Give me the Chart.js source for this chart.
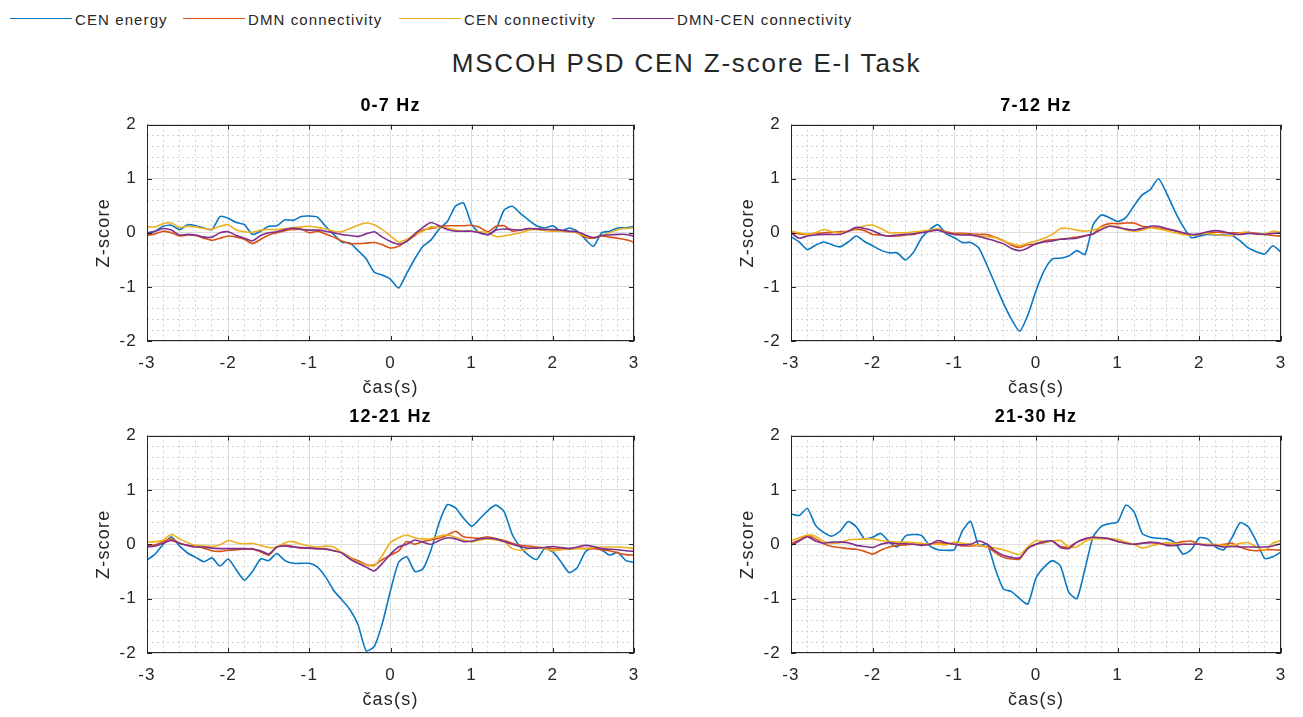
<!DOCTYPE html>
<html>
<head>
<meta charset="utf-8">
<title>MSCOH PSD CEN Z-score E-I Task</title>
<script src="https://cdn.jsdelivr.net/npm/chart.js@4/dist/chart.umd.min.js"></script>
<style>
  html, body { margin: 0; padding: 0; background: #ffffff; }
  body {
    width: 1303px; height: 717px; position: relative; overflow: hidden;
    font-family: "Liberation Sans", Arial, Helvetica, sans-serif; color: #262626;
  }
  .swatch { position: absolute; top: 17.5px; width: 62px; height: 0; border-top: 1.5px solid; }
  .ltext { position: absolute; top: 11px; font-size: 15px; line-height: 18px; letter-spacing: 1.1px; white-space: nowrap; }
  #suptitle {
    position: absolute; left: 35px; top: 48px; width: 1303px; text-align: center;
    font-size: 26px; line-height: 30px; letter-spacing: 1.8px; color: #262626; white-space: nowrap;
  }
  canvas { position: absolute; }
</style>
</head>
<body>
<div id="legend"></div>
<div id="suptitle">MSCOH PSD CEN Z-score E-I Task</div>

<script>
// ---- time axis (s) ----
const TIME = [
  -3.0, -2.9, -2.8, -2.7, -2.6, -2.5, -2.4, -2.3, -2.2, -2.1,
  -2.0, -1.9, -1.8, -1.7, -1.6, -1.5, -1.4, -1.3, -1.2, -1.1,
  -1.0, -0.9, -0.8, -0.7, -0.6, -0.5, -0.4, -0.3, -0.2, -0.1,
   0.0,  0.1,  0.2,  0.3,  0.4,  0.5,  0.6,  0.7,  0.8,  0.9,
   1.0,  1.1,  1.2,  1.3,  1.4,  1.5,  1.6,  1.7,  1.8,  1.9,
   2.0,  2.1,  2.2,  2.3,  2.4,  2.5,  2.6,  2.7,  2.8,  2.9,
   3.0
];

const X_TICK_LABELS = [-3, -2, -1, 0, 1, 2, 3];
const Y_TICK_LABELS = [-2, -1, 0, 1, 2];
const SERIES_NAMES = ['CEN energy', 'DMN connectivity', 'CEN connectivity', 'DMN-CEN connectivity'];
const BAND_TITLES = ['0-7 Hz', '7-12 Hz', '12-21 Hz', '21-30 Hz'];

// ---- 0-7 Hz ----
const B1_CEN_ENERGY = [
  -0.03, 0.03, 0.12, 0.14, 0.06, 0.15, 0.13, 0.09, 0.06, 0.30,
   0.27, 0.19, 0.15, -0.03, 0.03, 0.12, 0.13, 0.24, 0.23, 0.30,
   0.31, 0.29, 0.12, -0.03, -0.17, -0.19, -0.33, -0.48, -0.73, -0.78,
  -0.86, -1.02, -0.75, -0.48, -0.25, -0.13, 0.07, 0.21, 0.49, 0.55,
   0.15, 0.00, -0.03, 0.07, 0.42, 0.49, 0.36, 0.24, 0.13, 0.09,
   0.13, 0.03, 0.09, 0.03, -0.12, -0.25, 0.00, 0.03, 0.09, 0.09,
   0.12
];
const B1_DMN_CONN = [
  -0.05, -0.02, 0.03, 0.00, -0.06, -0.04, -0.05, -0.10, -0.14, -0.10,
  -0.06, -0.08, -0.12, -0.20, -0.12, -0.04, 0.00, 0.04, 0.06, 0.07,
   0.00, 0.03, -0.02, -0.08, -0.15, -0.20, -0.20, -0.19, -0.18, -0.22,
  -0.28, -0.25, -0.15, -0.05, 0.05, 0.08, 0.11, 0.13, 0.13, 0.13,
   0.14, 0.10, 0.02, 0.12, 0.13, 0.03, 0.05, 0.07, 0.08, 0.06,
   0.04, 0.03, 0.02, 0.00, -0.08, -0.10, -0.06, -0.08, -0.10, -0.13,
  -0.17
];
const B1_CEN_CONN = [
   0.11, 0.11, 0.17, 0.18, 0.10, 0.12, 0.11, 0.08, 0.07, 0.12,
   0.15, 0.05, 0.02, 0.01, 0.05, 0.06, 0.06, 0.08, 0.09, 0.11,
   0.12, 0.10, 0.07, 0.03, 0.02, 0.08, 0.14, 0.18, 0.15, 0.06,
  -0.06, -0.17, -0.12, -0.03, 0.03, 0.11, 0.10, 0.09, 0.05, 0.03,
   0.03, 0.02, 0.00, -0.07, -0.06, -0.03, 0.00, 0.05, 0.06, 0.04,
   0.03, 0.03, 0.03, 0.00, -0.06, -0.09, -0.05, 0.00, 0.06, 0.08,
   0.09
];
const B1_DMN_CEN_CONN = [
   0.00, 0.03, 0.08, 0.05, -0.04, -0.03, -0.04, -0.08, -0.08, 0.00,
   0.02, -0.05, -0.10, -0.15, -0.05, 0.00, 0.02, 0.06, 0.09, 0.06,
   0.05, 0.05, 0.03, 0.00, -0.03, -0.05, -0.07, -0.02, 0.02, -0.08,
  -0.16, -0.21, -0.16, -0.02, 0.10, 0.19, 0.13, 0.06, 0.03, 0.03,
   0.03, 0.00, -0.04, 0.05, 0.07, 0.06, 0.05, 0.08, 0.07, 0.06,
   0.06, 0.05, 0.03, 0.02, -0.04, -0.09, -0.05, -0.04, -0.03, -0.03,
  -0.06
];

// ---- 7-12 Hz ----
const B2_CEN_ENERGY = [
  -0.07, -0.17, -0.31, -0.23, -0.17, -0.22, -0.26, -0.17, -0.06, -0.16,
  -0.24, -0.32, -0.37, -0.37, -0.50, -0.36, -0.09, 0.06, 0.15, -0.02,
  -0.09, -0.18, -0.18, -0.28, -0.60, -0.95, -1.30, -1.60, -1.82, -1.52,
  -1.07, -0.70, -0.48, -0.47, -0.43, -0.33, -0.40, 0.15, 0.33, 0.28,
   0.21, 0.28, 0.50, 0.70, 0.80, 1.00, 0.73, 0.40, 0.12, -0.09,
  -0.06, -0.03, -0.04, -0.04, -0.05, -0.15, -0.28, -0.35, -0.39, -0.24,
  -0.36
];
const B2_DMN_CONN = [
   0.00, -0.02, -0.03, -0.01, 0.00, 0.01, 0.02, 0.03, 0.06, 0.04,
  -0.03, -0.04, -0.06, -0.06, -0.04, -0.03, 0.01, 0.04, 0.07, 0.02,
  -0.01, -0.01, -0.02, -0.03, -0.03, -0.08, -0.14, -0.23, -0.27, -0.22,
  -0.21, -0.15, -0.13, -0.12, -0.10, -0.08, -0.05, -0.02, 0.12, 0.17,
   0.17, 0.18, 0.18, 0.12, 0.10, 0.09, 0.06, 0.04, 0.00, -0.04,
  -0.03, 0.00, 0.01, 0.00, 0.00, 0.00, 0.01, -0.01, -0.03, -0.05,
  -0.06
];
const B2_CEN_CONN = [
   0.03, 0.00, -0.03, 0.00, 0.06, 0.02, -0.01, 0.03, 0.08, 0.13,
   0.14, 0.08, 0.00, 0.00, 0.00, 0.02, 0.03, 0.05, 0.07, 0.00,
  -0.03, -0.03, -0.04, -0.06, -0.07, -0.09, -0.15, -0.20, -0.24, -0.19,
  -0.15, -0.10, -0.03, 0.08, 0.08, 0.05, 0.03, 0.05, 0.10, 0.12,
   0.12, 0.05, 0.03, 0.05, 0.09, 0.07, 0.04, 0.00, -0.03, -0.05,
  -0.02, -0.01, -0.03, -0.05, -0.05, 0.00, 0.00, -0.03, -0.02, 0.03,
   0.01
];
const B2_DMN_CEN_CONN = [
   0.00, -0.10, -0.06, -0.04, -0.03, -0.03, -0.03, 0.03, 0.10, 0.08,
   0.04, -0.03, -0.06, -0.04, -0.03, -0.02, 0.00, 0.03, 0.05, 0.00,
  -0.03, -0.04, -0.04, -0.07, -0.11, -0.15, -0.20, -0.29, -0.33, -0.28,
  -0.20, -0.17, -0.15, -0.12, -0.11, -0.10, -0.06, -0.02, 0.06, 0.12,
   0.10, 0.07, 0.05, 0.08, 0.12, 0.12, 0.08, 0.04, 0.00, -0.03,
  -0.02, 0.02, 0.04, 0.02, -0.02, -0.03, -0.01, -0.02, -0.03, -0.01,
   0.00
];

// ---- 12-21 Hz ----
const B3_CEN_ENERGY = [
  -0.29, -0.18, 0.00, 0.14, -0.03, -0.16, -0.24, -0.32, -0.25, -0.40,
  -0.27, -0.47, -0.66, -0.50, -0.27, -0.30, -0.17, -0.30, -0.35, -0.35,
  -0.35, -0.42, -0.60, -0.85, -1.02, -1.20, -1.48, -1.96, -1.88, -1.45,
  -0.85, -0.33, -0.23, -0.50, -0.45, -0.10, 0.40, 0.73, 0.67, 0.48,
   0.33, 0.47, 0.62, 0.72, 0.60, 0.18, -0.05, -0.20, -0.28, -0.08,
  -0.14, -0.32, -0.52, -0.43, -0.14, -0.05, -0.10, -0.20, -0.15, -0.30,
  -0.33
];
const B3_DMN_CONN = [
  -0.03, -0.01, 0.05, 0.10, 0.02, -0.02, -0.04, -0.07, -0.12, -0.13,
  -0.11, -0.10, -0.09, -0.08, -0.14, -0.20, -0.05, -0.02, -0.04, -0.07,
  -0.07, -0.08, -0.08, -0.12, -0.15, -0.24, -0.30, -0.37, -0.38, -0.28,
  -0.20, -0.12, 0.05, 0.00, 0.05, 0.08, 0.11, 0.17, 0.24, 0.14,
   0.12, 0.11, 0.14, 0.10, 0.07, 0.02, -0.02, -0.03, -0.05, -0.07,
  -0.08, -0.08, -0.08, -0.07, -0.08, -0.08, -0.10, -0.12, -0.16, -0.19,
  -0.20
];
const B3_CEN_CONN = [
   0.04, 0.05, 0.08, 0.18, 0.10, 0.03, -0.02, -0.03, -0.04, -0.01,
   0.07, 0.03, 0.01, 0.02, -0.02, -0.06, -0.05, 0.03, 0.05, 0.00,
  -0.03, -0.05, -0.03, -0.05, -0.15, -0.25, -0.33, -0.38, -0.40, -0.20,
   0.03, 0.12, 0.17, 0.12, 0.10, 0.10, 0.15, 0.17, 0.13, 0.08,
   0.04, 0.08, 0.10, 0.08, 0.05, -0.08, -0.11, -0.08, -0.06, -0.08,
  -0.12, -0.10, -0.09, -0.08, -0.08, -0.06, -0.05, -0.05, -0.05, -0.06,
  -0.08
];
const B3_DMN_CEN_CONN = [
  -0.05, -0.03, 0.02, 0.07, 0.02, -0.02, -0.05, -0.05, -0.07, -0.08,
  -0.08, -0.08, -0.08, -0.09, -0.12, -0.18, -0.05, -0.03, -0.05, -0.06,
  -0.07, -0.08, -0.09, -0.12, -0.16, -0.27, -0.35, -0.42, -0.49, -0.35,
  -0.18, -0.05, 0.00, 0.08, 0.04, 0.00, 0.07, 0.12, 0.10, 0.05,
   0.06, 0.10, 0.11, 0.10, 0.05, 0.00, -0.04, -0.07, -0.07, -0.06,
  -0.04, -0.06, -0.08, -0.05, -0.02, -0.04, -0.08, -0.09, -0.10, -0.12,
  -0.13
];

// ---- 21-30 Hz ----
const B4_CEN_ENERGY = [
   0.56, 0.53, 0.66, 0.35, 0.22, 0.15, 0.24, 0.42, 0.32, 0.10,
   0.13, 0.20, 0.05, -0.05, 0.15, 0.18, 0.16, -0.03, -0.10, -0.11,
  -0.10, 0.25, 0.42, -0.03, 0.01, -0.45, -0.82, -0.87, -1.00, -1.10,
  -0.62, -0.42, -0.30, -0.40, -0.88, -1.00, -0.45, 0.14, 0.33, 0.38,
   0.41, 0.72, 0.60, 0.20, 0.13, 0.11, 0.10, 0.03, -0.18, -0.10,
   0.12, 0.10, -0.05, -0.10, 0.12, 0.40, 0.32, 0.05, -0.26, -0.23,
  -0.14
];
const B4_DMN_CONN = [
   0.01, 0.08, 0.16, 0.10, 0.01, -0.04, -0.06, -0.08, -0.09, -0.13,
  -0.18, -0.11, -0.05, -0.02, -0.01, 0.00, 0.00, 0.00, 0.03, 0.02,
   0.00, -0.03, -0.03, -0.02, -0.05, -0.15, -0.24, -0.27, -0.27, -0.07,
   0.00, 0.03, 0.06, -0.04, -0.05, 0.04, 0.10, 0.13, 0.12, 0.10,
   0.05, 0.02, 0.00, 0.02, 0.04, 0.01, 0.00, 0.02, 0.05, 0.06,
   0.00, -0.01, -0.02, 0.00, 0.02, -0.05, -0.10, -0.12, -0.10, -0.10,
  -0.11
];
const B4_CEN_CONN = [
   0.07, 0.12, 0.17, 0.15, 0.05, 0.02, 0.03, 0.08, 0.09, 0.10,
   0.10, 0.07, 0.05, 0.04, 0.04, 0.03, 0.02, 0.00, 0.00, -0.01,
   0.04, 0.02, 0.00, -0.02, -0.05, -0.07, -0.10, -0.15, -0.19, -0.05,
   0.07, 0.05, 0.06, 0.07, -0.05, -0.05, 0.05, 0.10, 0.10, 0.10,
   0.09, 0.04, 0.00, -0.07, -0.03, 0.00, 0.03, 0.01, 0.00, 0.00,
   0.00, 0.00, 0.00, -0.02, -0.02, 0.02, 0.03, -0.05, -0.11, 0.02,
   0.07
];
const B4_DMN_CEN_CONN = [
  -0.02, 0.06, 0.14, 0.06, 0.02, 0.04, 0.04, 0.03, -0.02, -0.04,
  -0.06, 0.00, 0.03, 0.01, 0.01, 0.00, -0.02, 0.00, 0.07, 0.03,
   0.00, -0.01, 0.00, 0.06, 0.00, -0.12, -0.20, -0.24, -0.25, -0.08,
   0.00, 0.05, 0.06, -0.06, -0.08, 0.04, 0.10, 0.13, 0.12, 0.10,
   0.05, 0.02, 0.00, 0.02, 0.03, 0.03, -0.02, -0.02, 0.00, 0.00,
   0.00, -0.02, -0.02, -0.05, -0.04, -0.05, -0.05, -0.05, -0.05, -0.03,
   0.01
];

// ---- styling & layout ----
const FONT = '"Liberation Sans", Arial, Helvetica, sans-serif';
const COLORS = ['#0a78c2', '#D95319', '#EDB120', '#7E2F8E'];
const TEXT_COLOR = '#262626';
const MAJOR_GRID = '#dcdcdc';
const MINOR_GRID = '#d2d2d2';
const Y_AXIS_W = 62, X_AXIS_H = 60, RIGHT_PAD = 10;
const TICK_SIZE = 17, LABEL_SIZE = 18;
const TITLE_SIZE = 18, TITLE_PAD_TOP = 2, TITLE_PAD_BOTTOM = 8;
const TITLE_H = TITLE_PAD_TOP + Math.round(TITLE_SIZE * 1.2) + TITLE_PAD_BOTTOM;

const PANELS = [
  { title: BAND_TITLES[0], series: [B1_CEN_ENERGY, B1_DMN_CONN, B1_CEN_CONN, B1_DMN_CEN_CONN], area: { left: 147, top: 125, right: 634,  bottom: 341 } },
  { title: BAND_TITLES[1], series: [B2_CEN_ENERGY, B2_DMN_CONN, B2_CEN_CONN, B2_DMN_CEN_CONN], area: { left: 791, top: 125, right: 1281, bottom: 341 } },
  { title: BAND_TITLES[2], series: [B3_CEN_ENERGY, B3_DMN_CONN, B3_CEN_CONN, B3_DMN_CEN_CONN], area: { left: 147, top: 436, right: 634,  bottom: 653 } },
  { title: BAND_TITLES[3], series: [B4_CEN_ENERGY, B4_DMN_CONN, B4_CEN_CONN, B4_DMN_CEN_CONN], area: { left: 791, top: 436, right: 1281, bottom: 653 } }
];

// ---- figure legend ----
const LEGEND_LINE_X = [10, 183, 399, 612];
(function buildLegend() {
  const host = document.getElementById('legend');
  SERIES_NAMES.forEach((name, k) => {
    const sw = document.createElement('div');
    sw.className = 'swatch';
    sw.style.left = LEGEND_LINE_X[k] + 'px';
    sw.style.borderTopColor = COLORS[k];
    host.appendChild(sw);
    const tx = document.createElement('div');
    tx.className = 'ltext';
    tx.style.left = (LEGEND_LINE_X[k] + 65) + 'px';
    tx.textContent = name;
    host.appendChild(tx);
  });
})();

const isMajor = v => Math.abs(v - Math.round(v)) < 1e-6;
const tickText = (v, list) => (isMajor(v) && list.includes(Math.round(v))) ? String(Math.round(v)) : '';

// wider glyph spacing on canvas text
const spacingPlugin = {
  id: 'glyphSpacing',
  beforeLayout(chart) { chart.ctx.letterSpacing = '1.2px'; },
  beforeDraw(chart) { chart.ctx.letterSpacing = '1.2px'; }
};

// box around the axes plus inward major tick marks on all four sides
const boxPlugin = {
  id: 'axesBox',
  afterDraw(chart) {
    const { ctx, chartArea: a, scales: { x, y } } = chart;
    const L = 5;
    ctx.save();
    ctx.strokeStyle = TEXT_COLOR;
    ctx.lineWidth = 1;
    ctx.beginPath();
    X_TICK_LABELS.forEach(v => {
      const px = Math.round(x.getPixelForValue(v)) + 0.5;
      ctx.moveTo(px, a.bottom); ctx.lineTo(px, a.bottom - L);
      ctx.moveTo(px, a.top); ctx.lineTo(px, a.top + L);
    });
    Y_TICK_LABELS.forEach(v => {
      const py = Math.round(y.getPixelForValue(v)) + 0.5;
      ctx.moveTo(a.left, py); ctx.lineTo(a.left + L, py);
      ctx.moveTo(a.right, py); ctx.lineTo(a.right - L, py);
    });
    ctx.stroke();
    ctx.strokeRect(Math.round(a.left) + 0.5, Math.round(a.top) + 0.5,
                   Math.round(a.right - a.left) - 1, Math.round(a.bottom - a.top) - 1);
    ctx.restore();
  }
};

const gridOpts = {
  drawTicks: false,
  lineWidth: 1,
  color: c => (c.tick && isMajor(c.tick.value)) ? MAJOR_GRID : MINOR_GRID
};
const borderOpts = {
  display: false,
  dash: c => (c.tick && !isMajor(c.tick.value)) ? [2, 3] : []
};

PANELS.forEach(p => {
  const w = Y_AXIS_W + (p.area.right - p.area.left) + RIGHT_PAD;
  const h = TITLE_H + (p.area.bottom - p.area.top) + X_AXIS_H;
  const canvas = document.createElement('canvas');
  canvas.width = w;
  canvas.height = h;
  canvas.style.width = w + 'px';
  canvas.style.height = h + 'px';
  canvas.style.left = (p.area.left - Y_AXIS_W) + 'px';
  canvas.style.top = (p.area.top - TITLE_H) + 'px';
  document.body.appendChild(canvas);

  const datasets = p.series.map((vals, k) => ({
    label: SERIES_NAMES[k],
    data: TIME.map((t, i) => ({ x: t, y: vals[i] })),
    borderColor: COLORS[k],
    backgroundColor: COLORS[k],
    borderWidth: 1.6,
    pointRadius: 0,
    tension: 0.2,
    fill: false,
    order: SERIES_NAMES.length - k
  }));

  const chart = new Chart(canvas, {
    type: 'line',
    data: { datasets },
    options: {
      responsive: false,
      animation: false,
      devicePixelRatio: 1,
      layout: { padding: { left: 0, right: RIGHT_PAD, top: 0, bottom: 0 } },
      plugins: {
        legend: { display: false },
        tooltip: { enabled: false },
        title: {
          display: true, text: p.title, fullSize: false, color: '#000000',
          font: { family: FONT, size: TITLE_SIZE, weight: 'bold', lineHeight: 1.2 },
          padding: { top: TITLE_PAD_TOP, bottom: TITLE_PAD_BOTTOM }
        }
      },
      scales: {
        x: {
          type: 'linear', min: -3, max: 3,
          ticks: {
            stepSize: 0.2, autoSkip: false, maxRotation: 0, padding: 12, color: TEXT_COLOR,
            font: { family: FONT, size: TICK_SIZE },
            callback: v => tickText(v, X_TICK_LABELS)
          },
          grid: gridOpts,
          border: borderOpts,
          title: {
            display: true, text: 'čas(s)', color: TEXT_COLOR,
            font: { family: FONT, size: LABEL_SIZE, lineHeight: 1.2 },
            padding: { top: 0, bottom: 2 }
          },
          afterFit(s) { s.height = X_AXIS_H; s.paddingLeft = 0; s.paddingRight = 0; }
        },
        y: {
          type: 'linear', min: -2, max: 2,
          ticks: {
            stepSize: 0.2, autoSkip: false, padding: 10, color: TEXT_COLOR,
            font: { family: FONT, size: TICK_SIZE },
            callback: v => tickText(v, Y_TICK_LABELS)
          },
          grid: gridOpts,
          border: borderOpts,
          title: {
            display: true, text: 'Z-score', color: TEXT_COLOR,
            font: { family: FONT, size: LABEL_SIZE, lineHeight: 1.2 },
            padding: { top: 8, bottom: 0 }
          },
          afterFit(s) { s.width = Y_AXIS_W; s.paddingTop = 0; s.paddingBottom = 0; }
        }
      }
    },
    plugins: [spacingPlugin, boxPlugin]
  });

  // pin the plot area to its place on the page
  const ca = chart.chartArea;
  canvas.style.left = Math.round(p.area.left - ca.left) + 'px';
  canvas.style.top = Math.round(p.area.top - ca.top) + 'px';
});
</script>
</body>
</html>
